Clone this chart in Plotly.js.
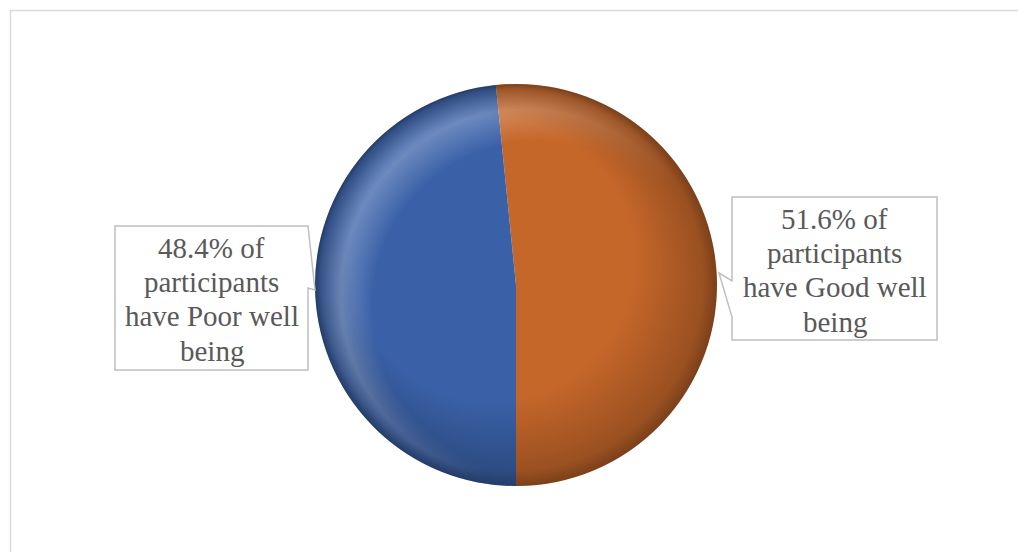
<!DOCTYPE html>
<html>
<head>
<meta charset="utf-8">
<script src="https://cdn.plot.ly/plotly-3.0.1.min.js"></script>
<style>
html,body{margin:0;padding:0;background:#fff;}
#chart{width:1018px;height:552px;}
</style>
</head>
<body>
<div id="chart"></div>
<script>
// ---- data ----
var categories = ["Good well being", "Poor well being"];
var percentValues = [51.6, 48.4];
var sliceColors = ["#c6672a", "#3a61a8"];

// ---- layout helpers ----
var W = 1018, H = 552;
function px(x){ return x / W; }
function py(y){ return 1 - y / H; }

function labelLines(i){
  var words = categories[i].split(" ");
  return [percentValues[i].toFixed(1) + "% of", "participants",
          "have " + words.slice(0, 2).join(" "), words.slice(2).join(" ")];
}

// first slice (clockwise) starts so that second slice ends at 6 o'clock
var rot = -(percentValues[0] / (percentValues[0] + percentValues[1]) - 0.5) * 360;

var pieL = 315, pieT = 84, pieD = 402;

var trace = {
  type: "pie",
  labels: categories,
  values: percentValues,
  sort: false,
  direction: "clockwise",
  rotation: rot,
  marker: {colors: sliceColors, line: {width: 0}},
  textinfo: "none",
  hoverinfo: "label+percent",
  showlegend: false,
  domain: {x: [px(pieL), px(pieL + pieD)], y: [py(pieT + pieD), py(pieT)]}
};

function calloutPath(pts){
  return "M " + pts.map(function(p){ return px(p[0]) + "," + py(p[1]); }).join(" L ") + " Z";
}

// right callout (Good) with pointer on its left side
var rightBox = calloutPath([[732,197],[937,197],[937,340],[732,340],[732,317],[719,273],[732,281]]);
// left callout (Poor) with pointer on its right side
var leftBox = calloutPath([[115,226],[308,226],[315,290],[308,288],[308,370],[115,370]]);

// soft 3D shading overlay (decoration only)
var shadeSvg =
  "<svg xmlns='http://www.w3.org/2000/svg' width='400' height='400' viewBox='0 0 400 400'>" +
  "<defs>" +
  "<radialGradient id='d' cx='0.5' cy='0.5' r='0.5' fx='0.3' fy='0.28'>" +
  "<stop offset='0.7' stop-color='#000' stop-opacity='0'/>" +
  "<stop offset='0.95' stop-color='#000' stop-opacity='0.22'/>" +
  "<stop offset='1' stop-color='#000' stop-opacity='0.38'/>" +
  "</radialGradient>" +
  "<radialGradient id='h' cx='0.5' cy='0.5' r='0.5' fx='0.8' fy='0.8'>" +
  "<stop offset='0.82' stop-color='#fff' stop-opacity='0'/>" +
  "<stop offset='0.92' stop-color='#fff' stop-opacity='0.26'/>" +
  "<stop offset='0.98' stop-color='#fff' stop-opacity='0.05'/>" +
  "<stop offset='1' stop-color='#fff' stop-opacity='0'/>" +
  "</radialGradient>" +
  "<linearGradient id='lg' x1='0' y1='0.1' x2='0.7' y2='0.55'>" +
  "<stop offset='0' stop-color='#fff'/>" +
  "<stop offset='0.4' stop-color='#fff'/>" +
  "<stop offset='1' stop-color='#000'/>" +
  "</linearGradient>" +
  "<mask id='m'><rect width='400' height='400' fill='url(#lg)'/></mask>" +
  "</defs>" +
  "<circle cx='200' cy='200' r='200' fill='url(#d)'/>" +
  "<circle cx='200' cy='200' r='200' fill='url(#h)' mask='url(#m)'/>" +
  "</svg>";
var shadeUri = "data:image/svg+xml;charset=utf-8," + encodeURIComponent(shadeSvg);

var labelFont = {family: "Liberation Serif, serif", size: 29, color: "#595959"};

var annotations = [];
function addLabel(i, cx, firstY){
  labelLines(i).forEach(function(t, k){
    annotations.push({xref: "paper", yref: "paper", x: px(cx), y: py(firstY + k * 34.2),
      xanchor: "center", yanchor: "middle", text: t, showarrow: false, font: labelFont});
  });
}
addLabel(0, 834.5, 219);
addLabel(1, 211.5, 248);

var layout = {
  width: W, height: H,
  margin: {l: 0, r: 0, t: 0, b: 0},
  paper_bgcolor: "#ffffff",
  plot_bgcolor: "#ffffff",
  font: {family: "Liberation Serif, serif"},
  images: [
    {source: shadeUri, xref: "paper", yref: "paper", x: px(pieL), y: py(pieT),
     sizex: pieD / W, sizey: pieD / H, sizing: "stretch", xanchor: "left", yanchor: "top",
     layer: "above", opacity: 1}
  ],
  shapes: [
    {type: "line", xref: "paper", yref: "paper", x0: px(10), x1: 1, y0: py(10.5), y1: py(10.5),
     line: {color: "#d9d9d9", width: 1.5}},
    {type: "line", xref: "paper", yref: "paper", x0: px(10.5), x1: px(10.5), y0: 0, y1: py(10),
     line: {color: "#d9d9d9", width: 1.5}},
    {type: "path", xref: "paper", yref: "paper", path: rightBox, fillcolor: "#ffffff",
     line: {color: "#bfbfbf", width: 1.5}, layer: "above"},
    {type: "path", xref: "paper", yref: "paper", path: leftBox, fillcolor: "#ffffff",
     line: {color: "#bfbfbf", width: 1.5}, layer: "above"}
  ],
  annotations: annotations
};

Plotly.newPlot("chart", [trace], layout, {displayModeBar: false, staticPlot: true});
</script>
</body>
</html>
